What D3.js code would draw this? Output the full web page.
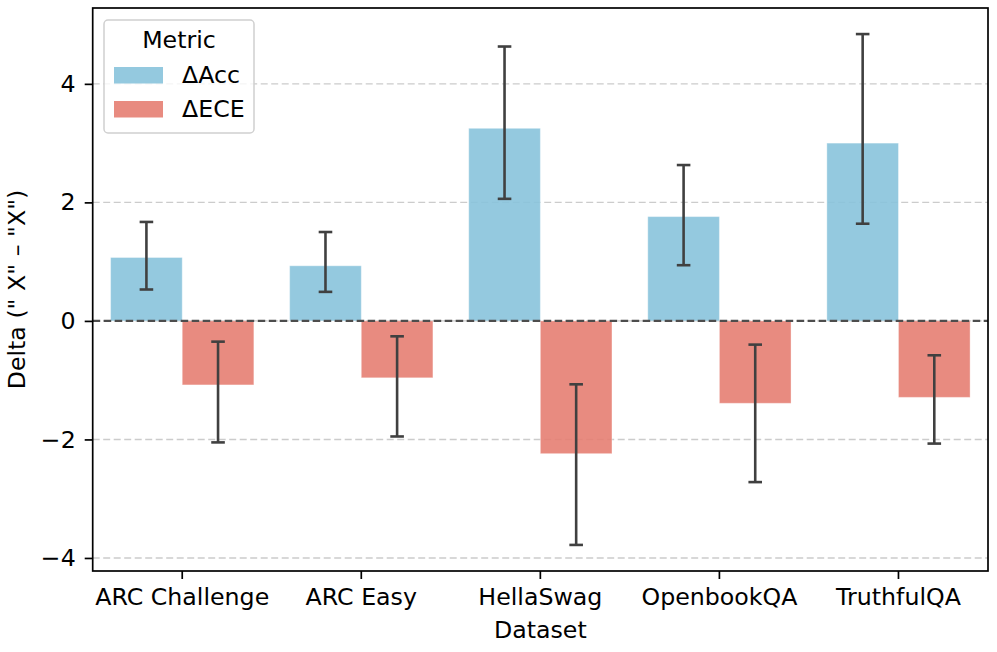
<!DOCTYPE html>
<html>
<head>
<meta charset="utf-8">
<script src="https://cdn.jsdelivr.net/npm/d3@7"></script>
<style>
  body { margin: 0; background: #fff; }
  #chart { width: 997px; height: 652px; }
  text { font-family: "DejaVu Sans", sans-serif; fill: #000; }
</style>
</head>
<body>
<div id="chart"></div>
<script>
/* DATA */
const datasets = ["ARC Challenge", "ARC Easy", "HellaSwag", "OpenbookQA", "TruthfulQA"];
const metrics = ["\u0394Acc", "\u0394ECE"];
const accMean = [1.07, 0.93, 3.25, 1.76, 3.00];
const accLo = [0.53, 0.49, 2.06, 0.94, 1.64];
const accHi = [1.67, 1.50, 4.63, 2.63, 4.84];
const eceMean = [-1.08, -0.96, -2.24, -1.39, -1.29];
const eceLo = [-2.05, -1.95, -3.78, -2.72, -2.07];
const eceHi = [-0.35, -0.26, -1.07, -0.40, -0.58];
const yTicks = [-4, -2, 0, 2, 4];

const colors = { "\u0394Acc": "#88c3db", "\u0394ECE": "#e67e72" };

/* build rows from the arrays */
let rows = [];
datasets.forEach((d, i) => {
    rows.push({ dataset: d, metric: metrics[0], mean: accMean[i], lo: accLo[i], hi: accHi[i] });
    rows.push({ dataset: d, metric: metrics[1], mean: eceMean[i], lo: eceLo[i], hi: eceHi[i] });
});

/* SVG + plot area */
const width = 997, height = 652;
const margin = { left: 92.7, right: 9, top: 8, bottom: 81 };
const svg = d3.select("#chart").append("svg")
    .attr("width", width)
    .attr("height", height);

const x = d3.scaleBand()
    .domain(datasets)
    .range([margin.left, width - margin.right])
    .paddingInner(0.2)
    .paddingOuter(0.1);

const xInner = d3.scaleBand()
    .domain(metrics)
    .range([0, x.bandwidth()]);

const y = d3.scaleLinear()
    .domain([-4.22, 5.28])
    .range([height - margin.bottom, margin.top]);

/* grid lines */
svg.append("g")
    .selectAll("line")
    .data(yTicks)
    .enter()
    .append("line")
        .attr("x1", margin.left)
        .attr("x2", width - margin.right)
        .attr("y1", d => y(d))
        .attr("y2", d => y(d))
        .attr("stroke", "#cccccc")
        .attr("stroke-width", 1.4)
        .attr("stroke-dasharray", "7,3.5");

/* bars */
svg.append("g")
    .selectAll("rect")
    .data(rows)
    .enter()
    .append("rect")
        .attr("x", d => x(d.dataset) + xInner(d.metric))
        .attr("width", xInner.bandwidth())
        .attr("y", d => Math.min(y(d.mean), y(0)))
        .attr("height", d => Math.abs(y(d.mean) - y(0)))
        .attr("fill", d => colors[d.metric])
        .attr("fill-opacity", 0.9)
        .attr("stroke", "#ffffff")
        .attr("stroke-opacity", 0.35)
        .attr("stroke-width", 1);

/* zero line */
svg.append("line")
    .attr("x1", margin.left)
    .attr("x2", width - margin.right)
    .attr("y1", y(0))
    .attr("y2", y(0))
    .attr("stroke", "#4d4d4d")
    .attr("stroke-width", 2.2)
    .attr("stroke-dasharray", "7.5,3.5");

/* error bars */
const err = svg.append("g")
    .selectAll("g")
    .data(rows)
    .enter()
    .append("g")
        .attr("transform", d => `translate(${x(d.dataset) + xInner(d.metric) + xInner.bandwidth() / 2},0)`);

err.append("line")
    .attr("y1", d => y(d.lo))
    .attr("y2", d => y(d.hi))
    .attr("stroke", "#404040")
    .attr("stroke-width", 2.6);

err.selectAll(".cap")
    .data(d => [d.lo, d.hi])
    .enter()
    .append("line")
        .attr("class", "cap")
        .attr("x1", -6.8)
        .attr("x2", 6.8)
        .attr("y1", v => y(v))
        .attr("y2", v => y(v))
        .attr("stroke", "#404040")
        .attr("stroke-width", 2.6);

/* axes */
const fontSize = 23.7;
const yAxis = svg.append("g")
    .attr("transform", `translate(${margin.left},0)`)
    .call(d3.axisLeft(y).tickValues(yTicks).tickSize(8).tickPadding(9)
        .tickFormat(d => d < 0 ? "\u2212" + Math.abs(d) : d));

const xAxis = svg.append("g")
    .attr("transform", `translate(0,${height - margin.bottom})`)
    .call(d3.axisBottom(x).tickSize(8).tickPadding(9));

[xAxis, yAxis].forEach(a => {
    a.select(".domain").remove();
    a.selectAll(".tick line").attr("stroke", "#000").attr("stroke-width", 1.7);
    a.selectAll(".tick text")
        .attr("font-family", "DejaVu Sans")
        .attr("font-size", fontSize)
        .attr("fill", "#000");
});

/* frame */
svg.append("rect")
    .attr("x", margin.left)
    .attr("y", margin.top)
    .attr("width", width - margin.left - margin.right)
    .attr("height", height - margin.top - margin.bottom)
    .attr("fill", "none")
    .attr("stroke", "#000")
    .attr("stroke-width", 1.7);

/* axis titles */
svg.append("text")
    .attr("x", (margin.left + width - margin.right) / 2)
    .attr("y", 638)
    .attr("text-anchor", "middle")
    .attr("font-size", fontSize)
    .text("Dataset");

svg.append("text")
    .attr("transform", `translate(25,${(margin.top + height - margin.bottom) / 2}) rotate(-90)`)
    .attr("text-anchor", "middle")
    .attr("font-size", fontSize)
    .text("Delta (\" X\" \u2013 \"X\")");

/* legend */
const legend = svg.append("g");
legend.append("rect")
    .attr("x", 104)
    .attr("y", 20)
    .attr("width", 150)
    .attr("height", 113)
    .attr("rx", 4)
    .attr("fill", "#fff")
    .attr("fill-opacity", 0.8)
    .attr("stroke", "#d0d0d0")
    .attr("stroke-width", 1.5);

legend.append("text")
    .attr("x", 179)
    .attr("y", 48)
    .attr("text-anchor", "middle")
    .attr("font-size", fontSize)
    .text("Metric");

const item = legend.selectAll(".item")
    .data(metrics)
    .enter()
    .append("g")
        .attr("class", "item")
        .attr("transform", (d, i) => `translate(0,${67 + i * 34})`);

item.append("rect")
    .attr("x", 114)
    .attr("width", 49)
    .attr("height", 16.5)
    .attr("fill", d => colors[d])
    .attr("fill-opacity", 0.9);

item.append("text")
    .attr("x", 182)
    .attr("y", 16)
    .attr("font-size", fontSize)
    .text(d => d);
</script>
</body>
</html>
